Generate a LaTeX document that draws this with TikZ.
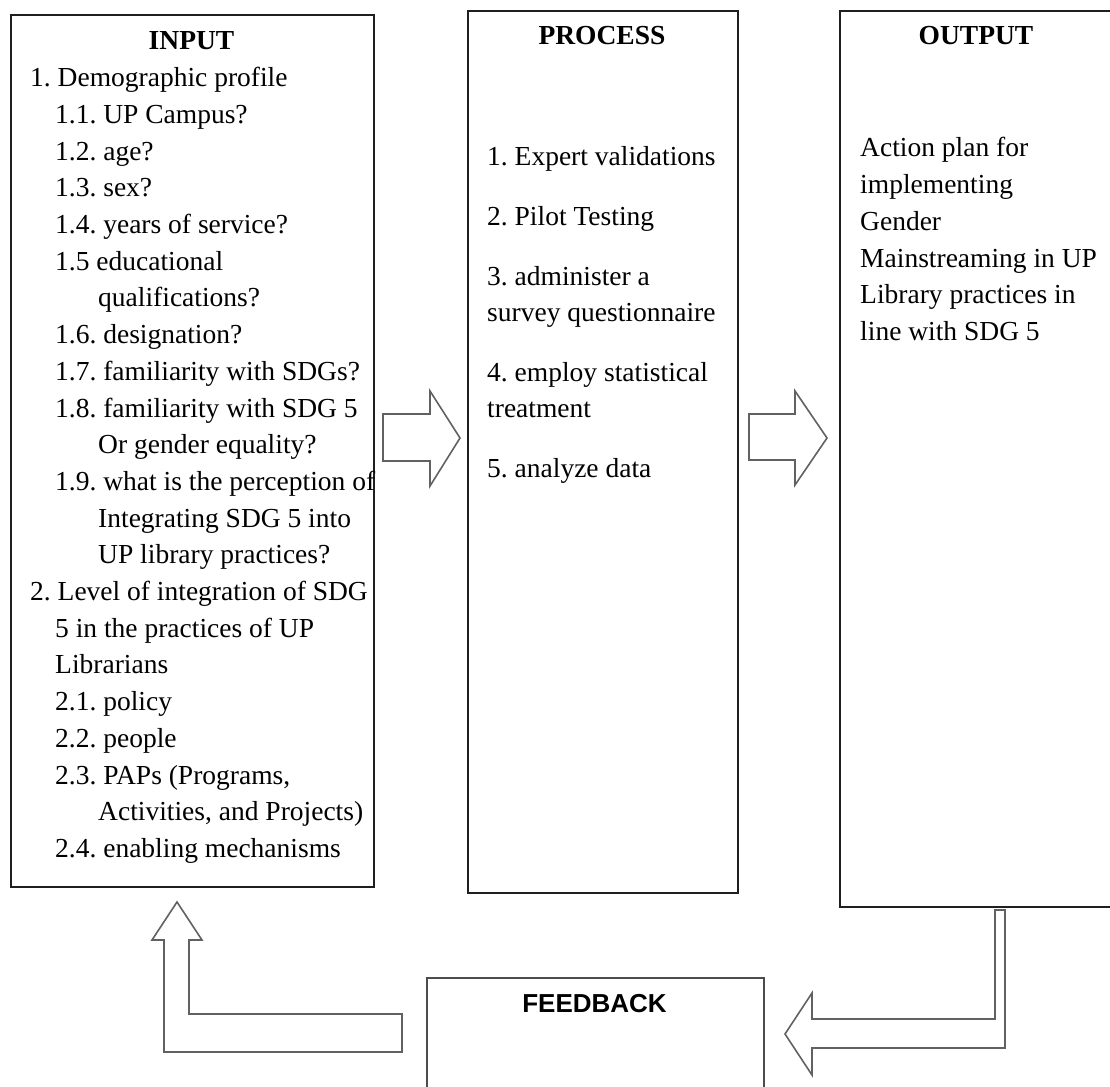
\documentclass[tikz,border=0pt]{standalone}
\usepackage{fontspec}
\setmainfont{Liberation Serif}
\newfontfamily\fbfont{Liberation Sans}
\frenchspacing
\begin{document}
\begin{tikzpicture}[x=1pt,y=-1pt,
  box/.style={draw=black!88, line width=1.8pt, inner sep=0pt, anchor=north west},
  blockarrow/.style={draw=black!62, line width=1.6pt, fill=white, line join=miter},
  txt/.style={anchor=base west, inner sep=0pt, font=\fontsize{27.5}{36.7}\selectfont},
  ttl/.style={anchor=base, inner sep=0pt, font=\fontsize{27.5}{36.7}\selectfont\bfseries},
]
\useasboundingbox (0,0) rectangle (1110,1086);
% boxes
\node[box, minimum width=363pt, minimum height=872pt] (input) at (10,14) {};
\node[box, minimum width=270pt, minimum height=882pt] (process) at (467,10) {};
\node[box, minimum width=274pt, minimum height=896pt] (output) at (839,10) {};
\node[box, draw=black!70, minimum width=337pt, minimum height=130pt] (feedback) at (426,977) {};
% titles
\node[ttl] (inputtitle) at (191.5,50) {INPUT};
\node[ttl] (processtitle) at (602,45) {PROCESS};
\node[ttl] (outputtitle) at (976,45) {OUTPUT};
\node[anchor=base, inner sep=0pt, font=\fbfont\bfseries\fontsize{26}{30}\selectfont] (feedbacktitle) at (594.5,1012) {FEEDBACK};
% input lines
\foreach \xx/\lbl [count=\n] in {
  30/{1. Demographic profile},
  55/{1.1. UP Campus?},
  55/{1.2. age?},
  55/{1.3. sex?},
  55/{1.4. years of service?},
  55/{1.5 educational},
  98/{qualifications?},
  55/{1.6. designation?},
  55/{1.7. familiarity with SDGs?},
  55/{1.8. familiarity with SDG 5},
  98/{Or gender equality?},
  55/{1.9. what is the perception of},
  98/{Integrating SDG 5 into},
  98/{UP library practices?},
  30/{2. Level of integration of SDG},
  55/{5 in the practices of UP},
  55/{Librarians},
  55/{2.1. policy},
  55/{2.2. people},
  55/{2.3. PAPs (Programs,},
  98/{Activities, and Projects)},
  55/{2.4. enabling mechanisms}}
  {\node[txt] (in\n) at (\xx,{50+36.7*\n}) {\lbl};}
% process lines
\foreach \yy/\lbl [count=\n] in {
  166/{1. Expert validations},
  225.5/{2. Pilot Testing},
  285/{3. administer a},
  321.7/{survey questionnaire},
  381.2/{4. employ statistical},
  417.9/{treatment},
  477.4/{5. analyze data}}
  {\node[txt] (pr\n) at (487,\yy) {\lbl};}
% output lines
\foreach \lbl [count=\n] in {
  {Action plan for},
  {implementing},
  {Gender},
  {Mainstreaming in UP},
  {Library practices in},
  {line with SDG 5}}
  {\node[txt] (out\n) at (860,{120.3+36.7*\n}) {\lbl};}
% block arrows between boxes
\draw[blockarrow] (383,414) -- (430,414) -- (430,391) -- (460,438) -- (430,486) -- (430,461) -- (383,461) -- cycle;
\draw[blockarrow] (749,414) -- (795,414) -- (795,391) -- (827,438) -- (795,485) -- (795,460) -- (749,460) -- cycle;
% feedback arrows
\draw[blockarrow] (995,910) -- (1005,910) -- (1005,1048) -- (812,1048) -- (812,1075) -- (785,1034) -- (812,993) -- (812,1019) -- (995,1019) -- cycle;
\draw[blockarrow] (177,902) -- (202,940) -- (189,940) -- (189,1014) -- (402,1014) -- (402,1052) -- (164,1052) -- (164,940) -- (152,940) -- cycle;
\end{tikzpicture}
\end{document}
